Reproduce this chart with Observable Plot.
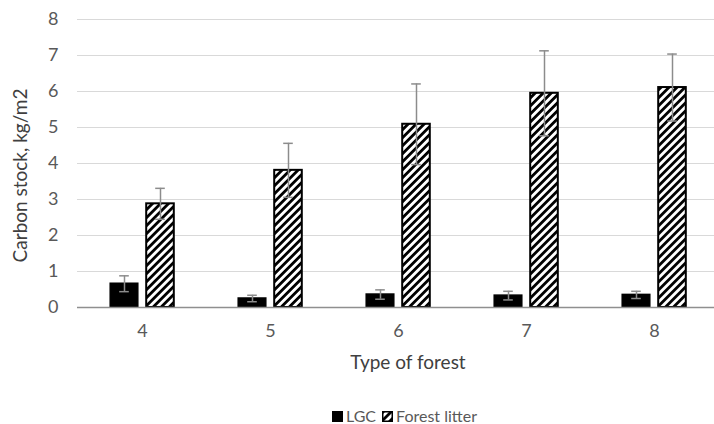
<!DOCTYPE html>
<html>
<head>
<meta charset="utf-8">
<script src="https://cdn.jsdelivr.net/npm/d3@7"></script>
<script src="https://cdn.jsdelivr.net/npm/@observablehq/plot@0.6"></script>
<style>
  body { margin: 0; background: #fff; font-family: Lato, "Open Sans", sans-serif; }
  #wrap { position: relative; width: 714px; height: 424px; }
  #legend { position: absolute; left: 332px; top: 405px; display: flex; align-items: center; font-size: 16px; color: #595959; line-height: 22px; }
  #legend .sw { width: 11px; height: 11px; box-sizing: border-box; display: inline-block; margin-right: 3px; }
  #legend .item { display: flex; align-items: center; margin-right: 6px; }
</style>
</head>
<body>
<div id="wrap">
  <div id="chart"></div>
  <div id="legend">
    <span class="item"><span class="sw" style="background:#000"></span>LGC</span>
    <span class="item"><svg class="sw" width="11" height="11" style="margin-right:3px">
      <defs><pattern id="hatchL" patternUnits="userSpaceOnUse" width="5.66" height="10" patternTransform="rotate(45)">
        <rect width="5.66" height="10" fill="#fff"></rect><rect width="2.8" height="10" fill="#000"></rect></pattern></defs>
      <rect x="0.75" y="0.75" width="9.5" height="9.5" fill="url(#hatchL)" stroke="#000" stroke-width="1.5"></rect></svg>Forest litter</span>
  </div>
</div>
<script>
const types = ["4", "5", "6", "7", "8"];
const seriesNames = ["LGC", "Forest litter"];
const lgc = [0.66, 0.25, 0.36, 0.33, 0.35];
const lgcErr = [0.22, 0.09, 0.13, 0.12, 0.10];
const litter = [2.88, 3.81, 5.09, 5.95, 6.11];
const litterErr = [0.43, 0.75, 1.12, 1.18, 0.93];
const yTicks = [0, 1, 2, 3, 4, 5, 6, 7, 8];

const lgcData = types.map((t, i) => ({type: t, series: seriesNames[0], value: lgc[i], err: lgcErr[i]}));
const litterData = types.map((t, i) => ({type: t, series: seriesNames[1], value: litter[i], err: litterErr[i]}));

const W = 714, H = 380;
const left = 77, right = 719;
const bw = (right - left) / types.length;
const barW = 28, off = 18, capW = 10;
const barInset = (bw - barW) / 2;
const capInset = (bw - capW) / 2;
const errColor = "#8c8c8c";

const errMarks = (data, dx) => [
  Plot.ruleX(data, {x: "type", y1: d => d.value - d.err, y2: d => d.value + d.err, stroke: errColor, strokeWidth: 1.5, dx}),
  Plot.tickY(data, {x: "type", y: d => d.value + d.err, stroke: errColor, strokeWidth: 1.5, dx, insetLeft: capInset, insetRight: capInset}),
  Plot.tickY(data, {x: "type", y: d => d.value - d.err, stroke: errColor, strokeWidth: 1.5, dx, insetLeft: capInset, insetRight: capInset})
];

const chart = Plot.plot({
  width: W,
  height: H,
  marginLeft: left,
  marginRight: 0,
  marginTop: 19,
  marginBottom: H - 307,
  style: {fontFamily: "Lato, 'Open Sans', sans-serif", fontSize: "18px", color: "#595959", background: "white", overflow: "visible"},
  x: {domain: types, range: [left, right], padding: 0, label: null},
  y: {domain: [0, 8], label: null},
  marks: [
    Plot.gridY(yTicks, {stroke: "#d9d9d9", strokeOpacity: 1, strokeWidth: 1.2}),
    Plot.axisY(yTicks, {tickSize: 0, tickPadding: 19, label: null, fontSize: 18}),
    Plot.axisX({tickSize: 0, tickPadding: 17, label: null, fontSize: 18}),
    Plot.barY(lgcData, {x: "type", y: "value", fill: "#000", stroke: "#000", strokeWidth: 1.5, dx: -off, insetLeft: barInset, insetRight: barInset}),
    Plot.barY(litterData, {x: "type", y: "value", fill: "url(#hatch)", stroke: "#000", strokeWidth: 2, dx: off, insetLeft: barInset, insetRight: barInset}),
    Plot.ruleY([0], {stroke: "#8f8f8f", strokeWidth: 1.5}),
    ...errMarks(lgcData, -off),
    ...errMarks(litterData, off),
    Plot.text(["Type of forest"], {frameAnchor: "bottom", textAnchor: "middle", lineAnchor: "middle", dy: 55, dx: 12, fontSize: 19, fill: "#404040"}),
    Plot.text(["Carbon stock, kg/m2"], {frameAnchor: "left", textAnchor: "middle", lineAnchor: "middle", rotate: -90, dx: -57, dy: 12, fontSize: 19, fill: "#404040"})
  ]
});

const svg = d3.select(chart);
const defs = svg.insert("defs", ":first-child");
const pat = defs.append("pattern").attr("id", "hatch").attr("patternUnits", "userSpaceOnUse")
  .attr("width", 5.66).attr("height", 10).attr("patternTransform", "rotate(45)");
pat.append("rect").attr("width", 5.66).attr("height", 10).attr("fill", "#fff");
pat.append("rect").attr("width", 2.8).attr("height", 10).attr("fill", "#000");

document.getElementById("chart").append(chart);
</script>
</body>
</html>
